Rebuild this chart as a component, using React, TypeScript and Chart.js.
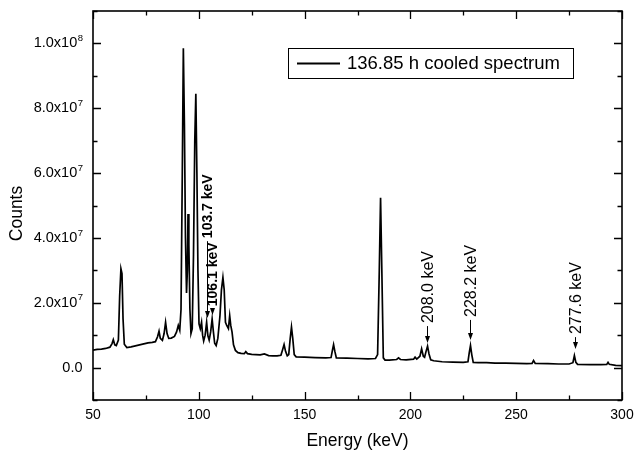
import { useEffect, useRef } from "react";
import { Chart, registerables } from "chart.js";

Chart.register(...registerables);

// Gamma spectrum after 136.85 h of cooling: energy (keV) and counts
const energy = [
  50, 52, 54, 56, 58, 59, 59.6, 60.3, 61, 62, 62.6, 63.2, 63.7, 64.2, 64.8, 66, 68, 70, 72, 74, 76, 78,
  79.5, 80.5, 81.2, 81.8, 82.8, 83.6, 84.3, 85, 85.8, 87, 88.5, 89.5, 90.3, 91, 91.6, 92.2, 92.7, 93.2,
  93.7, 94.2, 94.6, 94.9, 95.3, 95.8, 96.3, 96.9, 97.5, 98.1, 98.6, 99.1, 99.6, 100.1, 100.7, 101.3,
  101.8, 102.3, 103, 103.7, 104.3, 104.9, 105.6, 106.3, 106.9, 107.5, 108.2, 109, 110, 110.7, 111.4,
  112, 112.6, 113.2, 114, 114.6, 115.1, 115.7, 116.4, 117.3, 118.5, 120, 121.5, 122.2, 123, 125, 127,
  129, 131, 133, 135, 137, 138.8, 139.6, 140.3, 141, 141.8, 142.5, 143.2, 143.8, 144.4, 145.1, 146,
  150, 155, 160, 162.5, 163.2, 163.7, 164.3, 165, 170, 175, 180, 183.5, 184.5, 185.3, 185.9, 186.5,
  187.2, 188, 190, 193.5, 194.4, 195.3, 198, 201.5, 202.2, 203, 204.5, 205.3, 206.1, 206.7, 207.4,
  208.1, 208.8, 209.6, 211, 215, 220, 225, 227.2, 227.8, 228.4, 229, 229.7, 232, 236, 240, 245, 250,
  255, 257.5, 258.2, 259, 265, 270, 275, 276.8, 277.5, 278.2, 279, 285, 290, 292.8, 293.4, 294, 297,
  300,
];

const counts = [
  5.4e6, 5.6e6, 5.7e6, 5.9e6, 6.3e6, 7.4e6, 8.6e6, 7.0e6, 6.8e6, 8.5e6, 2.2e7, 3.05e7, 2.9e7, 1.5e7,
  7.2e6, 6.2e6, 6.4e6, 6.7e6, 7.0e6, 7.3e6, 7.6e6, 7.8e6,
  8.0e6, 9.5e6, 1.12e7, 9.0e6, 8.4e6, 1.05e7, 1.4e7, 1.05e7, 9.0e6, 9.1e6, 9.6e6, 1.1e7, 1.3e7, 1.15e7,
  1.8e7, 6.0e7, 9.85e7, 7.5e7,
  4.0e7, 2.3e7, 3.0e7, 4.74e7, 3.8e7, 1.8e7, 1.05e7, 1.2e7, 3.5e7, 7.0e7, 8.45e7, 6.0e7, 3.0e7, 1.35e7,
  1.2e7, 1.4e7,
  1.0e7, 8.2e6, 1.0e7, 1.4e7, 9.8e6, 8.5e6, 1.1e7, 1.5e7, 1.1e7, 7.5e6, 6.8e6, 9.0e6, 1.6e7, 2.4e7,
  2.78e7,
  2.4e7, 1.4e7, 1.3e7, 1.2e7, 1.6e7, 1.3e7, 1.1e7, 7.0e6, 5.3e6, 4.6e6, 4.4e6, 4.3e6, 4.9e6, 4.3e6,
  4.1e6, 4.0e6,
  3.9e6, 4.2e6, 3.7e6, 3.6e6, 3.6e6, 3.8e6, 5.5e6, 7.1e6, 5.0e6, 3.6e6, 4.0e6, 9.0e6, 1.25e7, 9.0e6,
  4.0e6, 3.3e6,
  3.2e6, 3.1e6, 3.0e6, 3.1e6, 5.5e6, 7.1e6, 5.0e6, 3.0e6, 2.9e6, 2.8e6, 2.7e6, 2.8e6, 4.0e6, 3.0e7,
  5.24e7, 3.0e7,
  3.0e6, 2.3e6, 2.3e6, 2.5e6, 3.0e6, 2.5e6, 2.4e6, 2.6e6, 3.2e6, 2.6e6, 3.5e6, 5.8e6, 3.5e6, 3.2e6,
  5.0e6,
  6.6e6, 4.2e6, 2.4e6, 2.1e6, 1.8e6, 1.7e6, 1.6e6, 1.8e6, 4.5e6, 6.8e6, 4.0e6, 1.6e6, 1.5e6, 1.5e6,
  1.4e6, 1.4e6, 1.3e6,
  1.2e6, 1.3e6, 2.2e6, 1.3e6, 1.2e6, 1.1e6, 1.1e6, 1.5e6, 3.7e6, 1.6e6, 1.0e6, 0.9e6, 0.9e6, 1.0e6,
  1.6e6, 1.0e6, 0.7e6,
  0.6e6,
];

// Axis ranges and tick spacing
const xRange = [50, 300];
const xTickStep = 25;
const xLabelStep = 50;
const yRange = [-1e7, 1.1e8];
const yTickStep = 1e7;
const yLabelStep = 2e7;

// Marked peaks: label, energy, arrow tip / tail (counts)
const peakLabels = ["103.7 keV", "106.1 keV", "208.0 keV", "228.2 keV", "277.6 keV"];
const peakEnergies = [103.7, 106.1, 208.0, 228.2, 277.6];
const arrowTips = [1.53e7, 1.62e7, 7.6e6, 8.5e6, 5.7e6];
const arrowTails = [3.9e7, 1.8e7, 1.28e7, 1.47e7, 9.4e6];
const peakBold = [true, true, false, false, false];

const seriesName = "136.85 h cooled spectrum";
const xTitle = "Energy (keV)";
const yTitle = "Counts";

const FONT = "'Liberation Sans', Arial, sans-serif";

function formatCount(v: number) {
  if (Math.abs(v) < 1) return { main: "0.0", sup: "" };
  const exp = Math.floor(Math.log10(Math.abs(v)) + 1e-9);
  const mant = v / Math.pow(10, exp);
  return { main: mant.toFixed(1) + "x10", sup: String(exp) };
}

const framePlugin = {
  id: "frameAndLabels",
  afterDraw(chart: any) {
    const ctx: CanvasRenderingContext2D = chart.ctx;
    const area = chart.chartArea;
    const xs = chart.scales.x;
    const ys = chart.scales.y;
    ctx.save();
    ctx.strokeStyle = "#000";
    ctx.fillStyle = "#000";

    // frame
    ctx.lineWidth = 1.6;
    ctx.strokeRect(area.left, area.top, area.right - area.left, area.bottom - area.top);

    // inward ticks on all four sides
    ctx.lineWidth = 1.3;
    ctx.beginPath();
    xs.ticks.forEach((t: any) => {
      const v = t.value;
      const px = Math.round(xs.getPixelForValue(v)) + 0.5;
      const major = Math.abs(v / xLabelStep - Math.round(v / xLabelStep)) < 1e-6;
      const len = major ? 8 : 4.5;
      ctx.moveTo(px, area.bottom);
      ctx.lineTo(px, area.bottom - len);
      ctx.moveTo(px, area.top);
      ctx.lineTo(px, area.top + len);
    });
    ys.ticks.forEach((t: any) => {
      const v = t.value;
      const py = Math.round(ys.getPixelForValue(v)) + 0.5;
      const major = Math.abs(v / yLabelStep - Math.round(v / yLabelStep)) < 1e-6;
      const len = major ? 8 : 4.5;
      ctx.moveTo(area.left, py);
      ctx.lineTo(area.left + len, py);
      ctx.moveTo(area.right, py);
      ctx.lineTo(area.right - len, py);
    });
    ctx.stroke();

    // x tick labels
    ctx.font = `14px ${FONT}`;
    ctx.textAlign = "center";
    ctx.textBaseline = "middle";
    xs.ticks.forEach((t: any) => {
      const v = t.value;
      if (Math.abs(v / xLabelStep - Math.round(v / xLabelStep)) > 1e-6) return;
      ctx.fillText(String(Math.round(v)), xs.getPixelForValue(v), area.bottom + 15);
    });

    // y tick labels with superscript exponent
    ys.ticks.forEach((t: any) => {
      const v = t.value;
      if (Math.abs(v / yLabelStep - Math.round(v / yLabelStep)) > 1e-6) return;
      const py = ys.getPixelForValue(v);
      const { main, sup } = formatCount(Math.round(v / 1e6) * 1e6);
      const right = area.left - 10;
      ctx.textBaseline = "middle";
      ctx.font = `9.5px ${FONT}`;
      const supW = sup ? ctx.measureText(sup).width : 0;
      if (sup) {
        ctx.textAlign = "left";
        ctx.fillText(sup, right - supW, py - 5);
      }
      ctx.font = `14.5px ${FONT}`;
      ctx.textAlign = "right";
      ctx.fillText(main, right - supW - 0.5, py);
    });

    // axis titles
    ctx.font = `17.5px ${FONT}`;
    ctx.textAlign = "center";
    ctx.textBaseline = "middle";
    ctx.fillText(xTitle, (area.left + area.right) / 2, area.bottom + 41);
    ctx.save();
    ctx.translate(area.left - 76, (area.top + area.bottom) / 2 + 8);
    ctx.rotate(-Math.PI / 2);
    ctx.fillText(yTitle, 0, 0);
    ctx.restore();

    // peak annotations: arrow + vertical label
    peakLabels.forEach((label, i) => {
      const px = Math.round(xs.getPixelForValue(peakEnergies[i])) + 0.5;
      const tip = ys.getPixelForValue(arrowTips[i]);
      const tail = ys.getPixelForValue(arrowTails[i]);
      ctx.lineWidth = 1;
      ctx.beginPath();
      ctx.moveTo(px, tail);
      ctx.lineTo(px, tip - 5);
      ctx.stroke();
      ctx.beginPath();
      ctx.moveTo(px, tip);
      ctx.lineTo(px - 2.5, tip - 7);
      ctx.lineTo(px + 2.5, tip - 7);
      ctx.closePath();
      ctx.fill();
      ctx.save();
      ctx.translate(px + 1, tail - 3);
      ctx.rotate(-Math.PI / 2);
      ctx.font = peakBold[i] ? `bold 14px ${FONT}` : `16px ${FONT}`;
      ctx.textAlign = "left";
      ctx.textBaseline = "middle";
      ctx.fillText(label, 0, 0);
      ctx.restore();
    });

    // legend box
    const lx = area.left + 195;
    const ly = area.top + 37;
    const lw = 285;
    const lh = 30;
    ctx.lineWidth = 1;
    ctx.strokeRect(lx + 0.5, ly + 0.5, lw, lh);
    ctx.lineWidth = 1.8;
    ctx.beginPath();
    ctx.moveTo(lx + 9, ly + lh / 2 + 0.5);
    ctx.lineTo(lx + 52, ly + lh / 2 + 0.5);
    ctx.stroke();
    ctx.font = `18.5px ${FONT}`;
    ctx.textAlign = "left";
    ctx.textBaseline = "middle";
    ctx.fillText(seriesName, lx + 59, ly + lh / 2 + 1);

    ctx.restore();
  },
};

export default function App() {
  const canvasRef = useRef<HTMLCanvasElement | null>(null);

  useEffect(() => {
    if (!canvasRef.current) return;
    const points = energy.map((e, i) => ({ x: e, y: counts[i] }));
    const chart = new Chart(canvasRef.current, {
      type: "line",
      data: {
        datasets: [
          {
            label: seriesName,
            data: points,
            borderColor: "#000",
            borderWidth: 1.7,
            pointRadius: 0,
            tension: 0,
            fill: false,
          },
        ],
      },
      options: {
        animation: false,
        responsive: false,
        devicePixelRatio: 1,
        parsing: false,
        layout: { padding: { left: 93, right: 13, top: 11, bottom: 55 } },
        plugins: { legend: { display: false }, tooltip: { enabled: false } },
        scales: {
          x: {
            type: "linear",
            min: xRange[0],
            max: xRange[1],
            display: false,
            ticks: { stepSize: xTickStep },
          },
          y: {
            type: "linear",
            min: yRange[0],
            max: yRange[1],
            display: false,
            ticks: { stepSize: yTickStep },
          },
        },
      },
      plugins: [framePlugin],
    });
    return () => chart.destroy();
  }, []);

  return (
    <div style={{ position: "fixed", left: 0, top: 0, width: 635, height: 455, background: "#fff" }}>
      <canvas ref={canvasRef} width={635} height={455} style={{ display: "block" }} />
    </div>
  );
}
